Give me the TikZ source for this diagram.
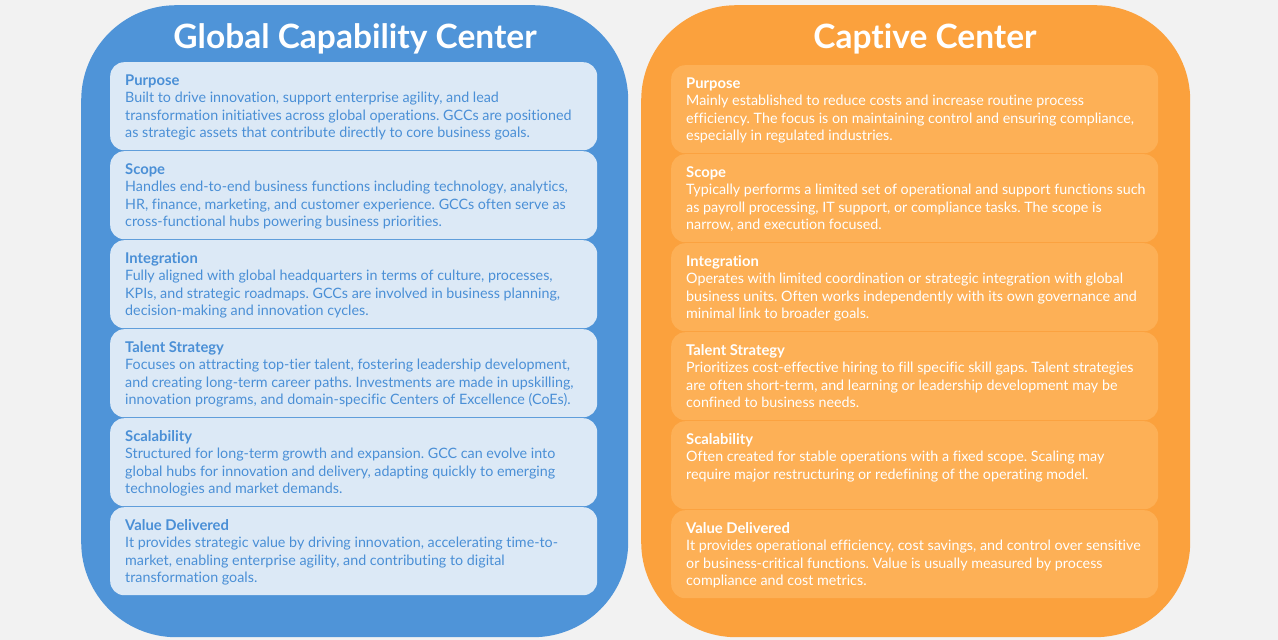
\documentclass[tikz,border=0pt]{standalone}
\usepackage{fontspec}
\setmainfont{Lato}[Ligatures=NoCommon]
\definecolor{bgc}{HTML}{F2F2F2}
\definecolor{bluepanel}{HTML}{4F94D8}
\definecolor{bluecard}{HTML}{DCE9F6}
\definecolor{bluetext}{HTML}{4A8FD6}
\definecolor{orangepanel}{HTML}{FBA13D}
\definecolor{orangecard}{HTML}{FDB056}
\tikzset{
  panel/.style={rectangle, rounded corners=95pt, inner sep=0pt, anchor=north west},
  card/.style={rectangle, rounded corners=14pt, inner sep=0pt, anchor=north west,
    minimum width=487pt, minimum height=88pt},
  bluecardbox/.style={card, fill=bluecard},
  orangecardbox/.style={card, fill=orangecard},
  cardtext/.style={anchor=north west, inner sep=0pt, align=left,
    font=\fontsize{14.3}{17.5}\selectfont\frenchspacing},
  titletext/.style={text=white, inner sep=0pt, font=\fontsize{33.5}{36}\selectfont\bfseries}
}
\newcommand{\mkcard}[6]{% name, style, x, y, heading, body
  \node[#2] (#1) at (#3,#4) {};
  \node[cardtext] (#1txt) at ([xshift=15pt,yshift=-10pt]#1.north west)
    {{\fontsize{14.8}{17.5}\selectfont\bfseries\rule{0pt}{13pt}#5}\\#6};
}
\begin{document}
\begin{tikzpicture}[x=1pt,y=-1pt]
\useasboundingbox (0,0) rectangle (1278,640);
\fill[bgc] (0,0) rectangle (1278,640);
% panels
\node[panel, fill=bluepanel, minimum width=547pt, minimum height=632pt] (gcc) at (81,5) {};
\node[panel, fill=orangepanel, minimum width=549pt, minimum height=632pt] (cc) at (641,5) {};
\node[titletext] (gcctitle) at (355,38.5) {Global Capability Center};
\node[titletext] (cctitle) at (925,38.5) {Captive Center};
% left cards
\begin{scope}
\tikzset{cardtext/.append style={text=bluetext}}
\mkcard{g1}{bluecardbox}{110}{62}{Purpose}{Built to drive innovation, support enterprise agility, and lead\\transformation initiatives across global operations. GCCs are positioned\\as strategic assets that contribute directly to core business goals.}
\mkcard{g2}{bluecardbox}{110}{151}{Scope}{Handles end-to-end business functions including technology, analytics,\\HR, finance, marketing, and customer experience. GCCs often serve as\\cross-functional hubs powering business priorities.}
\mkcard{g3}{bluecardbox}{110}{240}{Integration}{Fully aligned with global headquarters in terms of culture, processes,\\KPIs, and strategic roadmaps. GCCs are involved in business planning,\\decision-making and innovation cycles.}
\mkcard{g4}{bluecardbox}{110}{329}{Talent Strategy}{Focuses on attracting top-tier talent, fostering leadership development,\\and creating long-term career paths. Investments are made in upskilling,\\innovation programs, and domain-specific Centers of Excellence (CoEs).}
\mkcard{g5}{bluecardbox}{110}{418}{Scalability}{Structured for long-term growth and expansion. GCC can evolve into\\global hubs for innovation and delivery, adapting quickly to emerging\\technologies and market demands.}
\mkcard{g6}{bluecardbox}{110}{507}{Value Delivered}{It provides strategic value by driving innovation, accelerating time-to-\\market, enabling enterprise agility, and contributing to digital\\transformation goals.}
\end{scope}
% right cards
\begin{scope}
\tikzset{cardtext/.append style={text=white}}
\mkcard{c1}{orangecardbox}{671}{65}{Purpose}{Mainly established to reduce costs and increase routine process\\efficiency. The focus is on maintaining control and ensuring compliance,\\especially in regulated industries.}
\mkcard{c2}{orangecardbox}{671}{154}{Scope}{Typically performs a limited set of operational and support functions such\\as payroll processing, IT support, or compliance tasks. The scope is\\narrow, and execution focused.}
\mkcard{c3}{orangecardbox}{671}{243}{Integration}{Operates with limited coordination or strategic integration with global\\business units. Often works independently with its own governance and\\minimal link to broader goals.}
\mkcard{c4}{orangecardbox}{671}{332}{Talent Strategy}{Prioritizes cost-effective hiring to fill specific skill gaps. Talent strategies\\are often short-term, and learning or leadership development may be\\confined to business needs.}
\mkcard{c5}{orangecardbox}{671}{421}{Scalability}{Often created for stable operations with a fixed scope. Scaling may\\require major restructuring or redefining of the operating model.}
\mkcard{c6}{orangecardbox}{671}{510}{Value Delivered}{It provides operational efficiency, cost savings, and control over sensitive\\or business-critical functions. Value is usually measured by process\\compliance and cost metrics.}
\end{scope}
\end{tikzpicture}
\end{document}
